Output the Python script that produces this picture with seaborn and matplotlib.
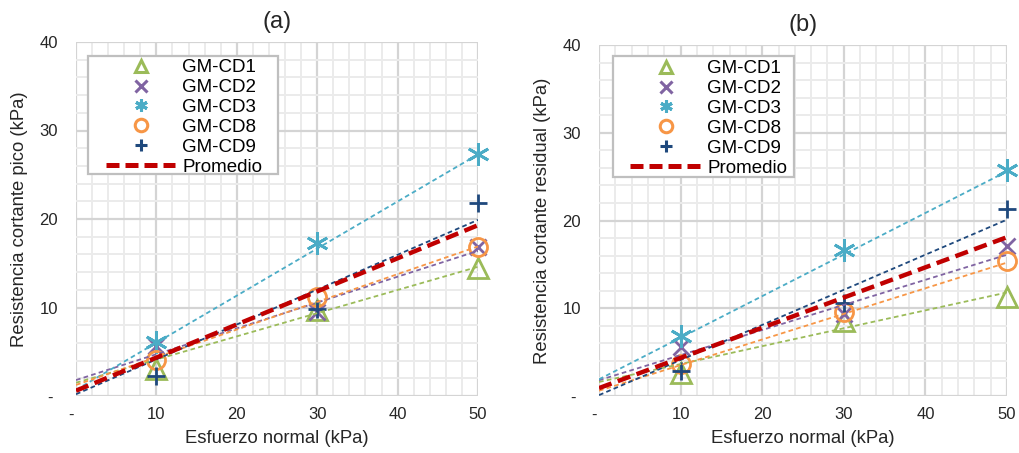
import numpy as np
import pandas as pd
import matplotlib
matplotlib.use("Agg")
import matplotlib.pyplot as plt
from matplotlib.patches import Rectangle
from matplotlib.lines import Line2D
import seaborn as sns

sns.set_theme(style="white")
plt.rcParams["font.family"] = ["Liberation Sans", "DejaVu Sans"]

# ---------------- data ----------------
series = ["GM-CD1", "GM-CD2", "GM-CD3", "GM-CD8", "GM-CD9"]
x_pts = [10, 30, 50]
x_fit = [0, 50]

# (a) peak shear strength (kPa)
cd1_a = [3.1, 9.7, 14.5]
cd2_a = [5.6, 9.5, 16.8]
cd3_a = [6.1, 17.3, 27.4]
cd8_a = [4.1, 11.2, 16.8]
cd9_a = [2.3, 9.8, 21.8]
# trend lines (value at x=0, value at x=50)
fit_cd1_a = [1.5, 14.6]
fit_cd2_a = [1.8, 16.4]
fit_cd3_a = [0.7, 27.3]
fit_cd8_a = [1.25, 16.9]
fit_cd9_a = [0.2, 19.9]
fit_prom_a = [0.6, 19.3]

# (b) residual shear strength (kPa)
cd1_b = [2.6, 8.5, 11.3]
cd2_b = [5.6, 9.4, 17.1]
cd3_b = [6.8, 16.6, 25.7]
cd8_b = [3.7, 9.6, 15.4]
cd9_b = [2.8, 10.6, 21.3]
fit_cd1_b = [1.6, 11.8]
fit_cd2_b = [1.8, 16.1]
fit_cd3_b = [1.9, 25.6]
fit_cd8_b = [0.6, 15.2]
fit_cd9_b = [0.1, 20.1]
fit_prom_b = [0.9, 18.1]

x_ticks = [0, 10, 20, 30, 40, 50]
x_ticklabels = ["-  ", "10", "20", "30", "40", "50"]
y_ticks = [0, 10, 20, 30, 40]
y_ticklabels = ["- ", "10", "20", "30", "40"]

# ---------------- style ----------------
colors = ["#9BBB59", "#8064A2", "#4BACC6", "#F79646", "#1F497D"]
markers = ["^", "x", (6, 2, 0), "o", "+"]
msizes = [14, 11, 16, 13, 13]
leg_msizes = [9, 8, 9, 9, 8]
prom_color = "#C00000"
txt_color = "#262626"

W, H = 1019, 453
fig = plt.figure(figsize=(W / 100, H / 100), dpi=100)
ax1 = fig.add_axes([76 / W, (H - 396) / H, (478 - 76) / W, (396 - 42) / H])
ax2 = fig.add_axes([599 / W, (H - 396) / H, (1007 - 599) / W, (396 - 45) / H])


def draw(ax, pts, fits, prom, ylabel, title, leg_anchor, rect, hl, htp):
    for i, name in enumerate(series):
        sns.lineplot(x=x_pts, y=pts[i], ax=ax, color=colors[i], marker=markers[i],
                     linestyle="none", markersize=msizes[i],
                     markerfacecolor="none", markeredgecolor=colors[i],
                     markeredgewidth=2.0, zorder=3, clip_on=False)
    for i, name in enumerate(series):
        sns.lineplot(x=x_fit, y=fits[i], ax=ax, color=colors[i], lw=1.3,
                     linestyle=(0, (2.6, 1.8)), zorder=4)
    sns.lineplot(x=x_fit, y=prom, ax=ax, color=prom_color, lw=3.2,
                 linestyle=(0, (3.0, 1.5)), zorder=5)

    ax.set_xlim(0, 50)
    ax.set_ylim(0, 40)
    ax.set_xticks(x_ticks)
    ax.set_xticklabels(x_ticklabels)
    ax.set_yticks(y_ticks)
    ax.set_yticklabels(y_ticklabels)
    ax.set_xticks(np.arange(0, 51, 2), minor=True)
    ax.set_yticks(np.arange(0, 41, 2), minor=True)
    ax.grid(which="minor", color="#ebebeb", lw=1.4, zorder=0)
    ax.grid(which="major", color="#d4d4d4", lw=1.6, zorder=0)
    ax.set_axisbelow(True)
    for s in ax.spines.values():
        s.set_visible(False)
    ax.tick_params(which="both", length=0, labelsize=12, colors=txt_color)
    ax.tick_params(axis="y", pad=13)
    ax.tick_params(axis="x", pad=8)
    ax.set_xlabel("Esfuerzo normal (kPa)", fontsize=13.3, color=txt_color, labelpad=6)
    ax.set_ylabel(ylabel, fontsize=13.3, color=txt_color, labelpad=8)
    ax.set_title(title, fontsize=17, color=txt_color, pad=10)

    # legend frame
    ax.add_patch(Rectangle((rect[0], rect[1]), rect[2], rect[3], transform=ax.transAxes,
                           facecolor="white", edgecolor="#bfbfbf", lw=1.6, zorder=6))
    handles = [Line2D([], [], linestyle="none", marker=markers[i], markersize=leg_msizes[i],
                      markerfacecolor="none", markeredgecolor=colors[i], markeredgewidth=2.2)
               for i in range(len(series))]
    handles.append(Line2D([], [], color=prom_color, lw=3.6, linestyle=(0, (2.6, 1.2))))
    leg = ax.legend(handles, series + ["Promedio"], loc="upper left",
                    bbox_to_anchor=leg_anchor, borderaxespad=0, borderpad=0.0,
                    frameon=False, fontsize=13.5, handlelength=hl, handletextpad=htp,
                    labelspacing=0.15, numpoints=1)
    leg.set_zorder(7)
    for t in leg.get_texts():
        t.set_color("black")


draw(ax1, [cd1_a, cd2_a, cd3_a, cd8_a, cd9_a],
     [fit_cd1_a, fit_cd2_a, fit_cd3_a, fit_cd8_a, fit_cd9_a], fit_prom_a,
     "Resistencia cortante pico (kPa)", "(a)",
     ((106 - 76) / 402, (396 - 59) / 354),
     ((88 - 76) / 402, (396 - 174) / 354, 190 / 402, 118 / 354), 3.7, 0.37)
draw(ax2, [cd1_b, cd2_b, cd3_b, cd8_b, cd9_b],
     [fit_cd1_b, fit_cd2_b, fit_cd3_b, fit_cd8_b, fit_cd9_b], fit_prom_b,
     "Resistencia cortante residual (kPa)", "(b)",
     ((630 - 599) / 408, (396 - 60) / 351),
     ((613 - 599) / 408, (396 - 177) / 351, 181 / 408, 121 / 351), 3.85, 0.28)

fig.savefig("out.png", dpi=100)
